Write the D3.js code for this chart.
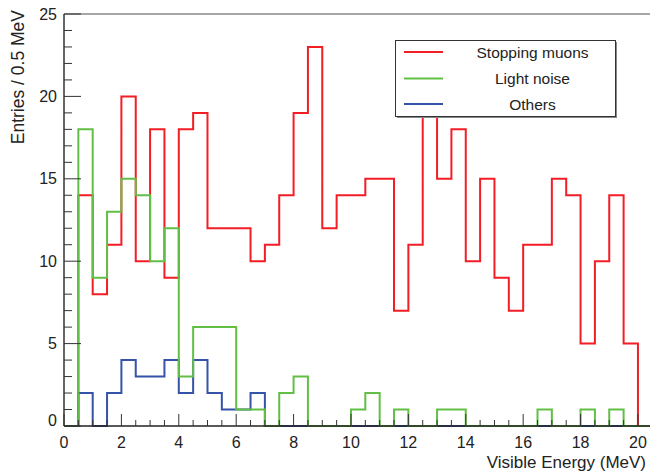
<!DOCTYPE html>
<html>
<head>
<meta charset="utf-8">
<script src="https://cdn.jsdelivr.net/npm/d3@7/dist/d3.min.js"></script>
<style>
  html, body { margin: 0; padding: 0; background: #fff; }
  svg { display: block; font-family: "Liberation Sans", Arial, Helvetica, sans-serif; }
</style>
</head>
<body>
<svg id="chart" width="650" height="472"></svg>
<script>
// Bin lower edges (MeV), 0.5 MeV wide
const binEdges = d3.range(0, 20.5, 0.5); // 0 .. 20 (41 bins, last one 20-20.5)
const stoppingMuons = [0,14,8,11,20,10,18,9,18,19,12,12,12,10,11,14,19,23,12,14,14,15,15,7,11,20,15,18,10,15,9,7,11,11,15,14,5,10,14,5,0];
const lightNoise    = [0,18,9,13,15,14,10,12,3,6,6,6,1,1,0,2,3,0,0,0,1,2,0,1,0,0,1,1,0,0,0,0,0,1,0,0,1,0,1,0,0];
const others        = [0,2,0,2,4,3,3,4,2,4,2,1,1,2,0,0,0,0,0,0,0,0,0,0,0,0,0,0,0,0,0,0,0,0,0,0,0,0,0,0,0];
const seriesNames = ["Stopping muons", "Light noise", "Others"];
const seriesColors = ["#f21d25", "#62bf45", "#3553a8"];
const xTicks = [0,2,4,6,8,10,12,14,16,18,20];
const yTicks = [0,5,10,15,20,25];
const binWidth = 0.5;

const svg = d3.select("#chart");
const pLeft = 64, pRight = 650, pTop = 14, pBottom = 426;
const x = d3.scaleLinear().domain([0, 20.42]).range([pLeft, pRight]);
const y = d3.scaleLinear().domain([0, 25]).range([pBottom, pTop]);

svg.append("defs").append("clipPath").attr("id", "clip")
  .append("rect").attr("x", pLeft).attr("y", pTop - 2).attr("width", pRight - pLeft).attr("height", pBottom - pTop + 4);

// Frame (top line)
svg.append("line").attr("x1", pLeft).attr("x2", pRight).attr("y1", pTop).attr("y2", pTop)
  .attr("stroke", "#888").attr("stroke-width", 1.5);

function stepPath(vals) {
  const pts = [[x(0), y(0)]];
  vals.forEach((v, i) => {
    const x0 = x(binEdges[i]), x1 = x(binEdges[i] + binWidth);
    pts.push([x0, y(v)]);
    pts.push([x1, y(v)]);
  });
  return d3.line()(pts);
}

const g = svg.append("g").attr("clip-path", "url(#clip)");
const drawOrder = [[stoppingMuons, 0], [others, 2], [lightNoise, 1]];
drawOrder.forEach(([vals, ci]) => {
  g.append("path").attr("d", stepPath(vals))
    .attr("fill", "none").attr("stroke", seriesColors[ci]).attr("stroke-width", 2)
    .attr("stroke-linejoin", "miter");
});

// X axis
const xAxisG = svg.append("g");
xAxisG.append("line").attr("x1", pLeft).attr("x2", pRight).attr("y1", pBottom).attr("y2", pBottom)
  .attr("stroke", "#222").attr("stroke-width", 1.3);
const xMinor = d3.range(0, 20.5, 0.5).filter(v => !xTicks.includes(v));
xAxisG.selectAll(".xmin").data(xMinor).join("line")
  .attr("x1", d => x(d)).attr("x2", d => x(d)).attr("y1", pBottom).attr("y2", pBottom - 6)
  .attr("stroke", "#333").attr("stroke-width", 1);
xAxisG.selectAll(".xmaj").data(xTicks).join("line")
  .attr("x1", d => x(d)).attr("x2", d => x(d)).attr("y1", pBottom).attr("y2", pBottom - 12)
  .attr("stroke", "#333").attr("stroke-width", 1);
xAxisG.selectAll(".xlab").data(xTicks).join("text")
  .attr("x", d => x(d)).attr("y", pBottom + 22).attr("text-anchor", "middle")
  .attr("font-size", 16).attr("fill", "#222").text(d => d);

// Y axis
const yAxisG = svg.append("g");
yAxisG.append("line").attr("x1", pLeft).attr("x2", pLeft).attr("y1", pTop).attr("y2", pBottom)
  .attr("stroke", "#333").attr("stroke-width", 1.5);
const yMinor = d3.range(0, 26, 1).filter(v => !yTicks.includes(v));
yAxisG.selectAll(".ymin").data(yMinor).join("line")
  .attr("x1", pLeft).attr("x2", pLeft + 8).attr("y1", d => y(d)).attr("y2", d => y(d))
  .attr("stroke", "#333").attr("stroke-width", 1);
yAxisG.selectAll(".ymaj").data(yTicks).join("line")
  .attr("x1", pLeft).attr("x2", pLeft + 17).attr("y1", d => y(d)).attr("y2", d => y(d))
  .attr("stroke", "#333").attr("stroke-width", 1);
yAxisG.selectAll(".ylab").data(yTicks).join("text")
  .attr("x", pLeft - 7).attr("y", d => y(d) + (d === 0 ? 0 : 5.5)).attr("text-anchor", "end")
  .attr("font-size", 16).attr("fill", "#222").text(d => d);

// Axis titles
svg.append("text").attr("x", 646).attr("y", 468).attr("text-anchor", "end")
  .attr("font-size", 17).attr("fill", "#222").text("Visible Energy (MeV)");
svg.append("text").attr("transform", "translate(24,10) rotate(-90)").attr("text-anchor", "end")
  .attr("font-size", 17.5).attr("fill", "#222").text("Entries / 0.5 MeV");

// Legend
const lg = svg.append("g");
lg.append("rect").attr("x", 397).attr("y", 42).attr("width", 220).attr("height", 76)
  .attr("fill", "#888");
lg.append("rect").attr("x", 395.5).attr("y", 40.5).attr("width", 220).attr("height", 76)
  .attr("fill", "#fff").attr("stroke", "#333").attr("stroke-width", 1);
const rowsY = [52, 78.5, 104];
seriesNames.forEach((name, i) => {
  lg.append("line").attr("x1", 404).attr("x2", 443).attr("y1", rowsY[i]).attr("y2", rowsY[i])
    .attr("stroke", seriesColors[i]).attr("stroke-width", 2);
  lg.append("text").attr("x", 532.5).attr("y", rowsY[i] + 5.5).attr("text-anchor", "middle")
    .attr("font-size", 15.5).attr("fill", "#222").text(name);
});
</script>
</body>
</html>
